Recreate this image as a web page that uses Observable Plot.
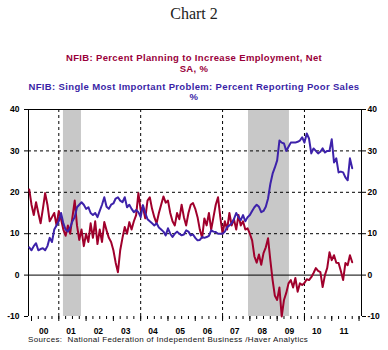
<!DOCTYPE html>
<html><head><meta charset="utf-8">
<script src="https://cdn.jsdelivr.net/npm/d3@7"></script>
<script src="https://cdn.jsdelivr.net/npm/@observablehq/plot@0.6"></script>
<style>
body{margin:0;background:#fff;}
#wrap{position:relative;width:388px;height:350px;overflow:hidden;font-family:"Liberation Sans",Arial,sans-serif;}
.t{position:absolute;left:0;width:388px;text-align:center;white-space:nowrap;font-weight:bold;font-size:9.5px;line-height:10px;letter-spacing:0.35px;}
</style></head><body>
<div id="wrap">
<div id="chart" style="position:absolute;left:0;top:0"></div>
<div class="t" style="top:4px;font-family:'Liberation Serif',serif;font-weight:normal;font-size:16px;line-height:20px;letter-spacing:0;color:#222">Chart 2</div>
<div class="t" style="top:53px;color:#99003a">NFIB: Percent Planning to Increase Employment, Net</div>
<div class="t" style="top:64px;color:#99003a">SA, %</div>
<div class="t" style="top:82px;color:#3a1fa6">NFIB: Single Most Important Problem: Percent Reporting Poor Sales</div>
<div class="t" style="top:92px;color:#3a1fa6">%</div>
<div style="position:absolute;left:28px;top:335px;font-size:8px;line-height:10px;letter-spacing:0.35px;white-space:nowrap;color:#111">Sources:&nbsp;&nbsp;National Federation of Independent Business /Haver Analytics</div>
</div>
<script>
// Monthly series, starting December 1999
const startYear = 1999;
const startMonth = 12;
const employment = [
  20.7,
  17, 14.5, 17.6, 15, 12.5, 16, 19.8, 17, 13, 14, 15, 12,
  15.5, 13.5, 11, 9.5, 12, 10, 14, 18, 12, 8.5, 11, 7,
  10, 8, 12.5, 9, 13, 7.5, 11, 8, 12.8, 10.8, 9, 8,
  6, 3, 0.7, 6, 9, 11.6, 10, 12.8, 11, 13, 14.5, 19.8,
  15.7, 16.4, 13.7, 18, 18.8, 16, 14, 12.5, 15, 17, 19, 17.5,
  18, 15, 13, 12, 15, 13.5, 17, 14, 12, 15, 17, 17.4,
  16, 14, 11, 9, 13.7, 12, 15, 11, 14, 17, 18.8, 14,
  10, 13, 11, 15, 12, 13.5, 11, 14.5, 12, 13, 11, 11.3,
  10, 8.4, 4.5, 3, 5, 2.5, 5.3, 6.7, 8.9, 3.6, -1.2, -5,
  -6, -3, -10, -6, -4.3, -2, -1.2, -3, -0.7, -4, -2, -2.4,
  -1.9, -1, -1.2, -0.5, 0.5, 1.7, 1, 0.7, -2.9, 0, 1.7, 5.5,
  3.6, 4.8, 3, 2.9, 1, -1.2, 2.9, 2.4, 4.8, 3.1
];
const poorSales = [
  6.7,
  6, 7, 7.7, 6, 6.3, 6.5, 6, 7, 9, 8, 11, 12,
  13, 15, 12.5, 11, 10.5, 11.5, 13, 14, 16.4, 17, 17.6, 17,
  16, 16.4, 15, 14.5, 15, 14, 15.5, 17, 18.8, 16.5, 16, 17,
  17.3, 18.5, 18.8, 18, 17.6, 18.8, 16.4, 17, 16, 15.2, 15.7, 15.2,
  14, 16.9, 15, 13.5, 13, 12.5, 12, 12.5, 11.5, 11, 10.5, 9.6,
  11.3, 10, 9.2, 10, 10.5, 10, 9.6, 9.8, 10.8, 10.5, 9.6, 9.8,
  9, 8.4, 8.5, 9.2, 9, 9.2, 9.5, 10.8, 10.5, 10.4, 10, 10,
  10, 10.5, 11.6, 12, 12.5, 13.5, 15, 14, 13.3, 14.5, 13, 14,
  14.5, 15.5, 16.4, 17, 16.5, 15.2, 15.5, 16.5, 18.5, 22, 24.5, 26,
  27.7, 32.5, 32, 31.8, 30, 31, 32, 32, 32, 32.2, 32.5, 33.3,
  32, 34.2, 33, 29.4, 30.6, 30, 29.4, 29.8, 30.6, 29.6, 30, 30,
  32.8, 27.2, 28.2, 24.8, 25, 24.8, 23.6, 22.9, 28.2, 25.8
];
const recessions = [
  {start: 2001.17, end: 2001.83},
  {start: 2007.95, end: 2009.45}
];
const yearLabels = ["00","01","02","03","04","05","06","07","08","09","10","11"];
const yTicks = [-10, 0, 10, 20, 30, 40];
const gridY = [10, 20, 30];
const gridX = [2001, 2004, 2007, 2010];

const RED = "#a0002c";
const BLUE = "#3d22aa";
const t0 = startYear + (startMonth - 1) / 12;
const red = employment.map((v, i) => ({t: t0 + i / 12, v}));
const blue = poorSales.map((v, i) => ({t: t0 + i / 12, v}));
const years = yearLabels.map((s, i) => ({t: 2000 + i + 0.45, s}));
const yearTicks = d3.range(2000, 2013);
const quarterTicks = d3.range(2000, 2012.01, 0.25);
const x0 = 1999.89, x1 = 2012.09;

const plot = Plot.plot({
  width: 388, height: 350,
  marginTop: 109, marginBottom: 34, marginLeft: 28, marginRight: 27,
  x: {domain: [x0, x1]},
  y: {domain: [-10, 40]},
  style: {fontFamily: "Liberation Sans, Arial, sans-serif", fontSize: "8.5px", fontWeight: "bold", color: "#000", background: "transparent"},
  marks: [
    Plot.rect(recessions, {x1: "start", x2: "end", y1: -10, y2: 40, fill: "#c8c8c8"}),
    Plot.ruleY(gridY, {stroke: "#000", strokeDasharray: "3,3", strokeWidth: 1}),
    Plot.ruleX(gridX, {stroke: "#000", strokeDasharray: "3,3", strokeWidth: 1}),
    Plot.ruleY([0, 40], {stroke: "#000", strokeWidth: 1}),
    Plot.ruleX([x0, x1], {y1: -10, y2: 40, stroke: "#000", strokeWidth: 1}),
    Plot.line(red, {x: "t", y: "v", stroke: RED, strokeWidth: 2}),
    Plot.line(blue, {x: "t", y: "v", stroke: BLUE, strokeWidth: 2}),
    Plot.axisY({anchor: "left", label: null, ticks: yTicks, tickSize: 4, tickPadding: 5, tickFormat: d => String(d)}),
    Plot.axisY({anchor: "right", label: null, ticks: yTicks, tickSize: 4, tickPadding: 2, tickFormat: d => String(d)}),
    Plot.axisX({anchor: "bottom", label: null, ticks: quarterTicks, tickSize: 3, tickFormat: () => ""}),
    Plot.axisX({anchor: "bottom", label: null, ticks: yearTicks, tickSize: 5, tickFormat: () => ""}),
    Plot.text(years, {x: "t", y: -10, dy: 15, text: "s", fill: "#000"})
  ]
});
document.getElementById("chart").appendChild(plot);
</script>
</body></html>
